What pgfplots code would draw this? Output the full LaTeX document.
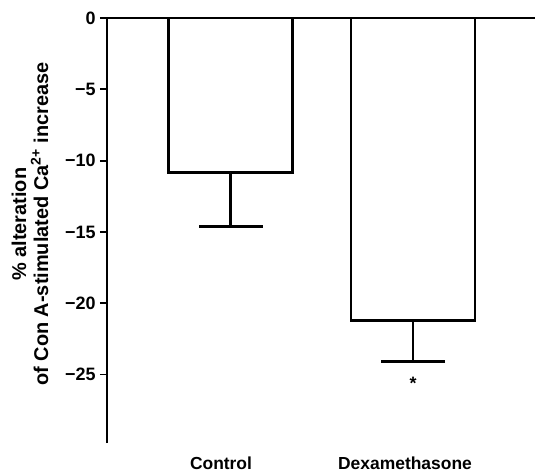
\documentclass[border=0pt]{standalone}
\usepackage{pgfplots}
\pgfplotsset{compat=1.18}
\usepackage{fontspec}
\setmainfont{Liberation Sans}
\begin{document}
\begin{tikzpicture}
\begin{axis}[
  scale only axis,
  width=428bp, height=425bp,
  xmin=0, xmax=428,
  ymin=-29.8, ymax=0,
  axis y line=left,
  axis x line=top,
  axis line style={-, line width=1.8bp},
  xtick=\empty,
  ytick={0,-5,-10,-15,-20,-25},
  yticklabels={0,−5,−10,−15,−20,−25},
  /pgf/number format/assume math mode=true,
  yticklabel style={font=\fontsize{18}{20}\selectfont\bfseries, xshift=-1bp},
  ytick style={line width=1.8bp, black},
  tick align=outside,
  major tick length=7bp,
  ylabel={\% alteration\\of Con A-stimulated Ca\textsuperscript{2+} increase},
  every axis y label/.style={at={(axis description cs:-0.18,0.515)}, rotate=90, anchor=center,
    font=\fontsize{20}{22}\selectfont\bfseries, align=center},
  clip=false,
]
\addplot[ybar, bar width=124, fill=white, draw=black, line width=2.6bp,
  error bars/.cd, y dir=minus, y explicit,
  error bar style={line width=2.6bp},
  error mark options={rotate=90, mark size=32bp, line width=2.6bp}]
  coordinates {(123.5,-10.85) -= (0,3.75) (306,-21.2) -= (0,2.9)};
\node[font=\fontsize{17.5}{18}\selectfont\bfseries] at (axis cs:114,-29.8) [yshift=-20bp] {Control};
\node[font=\fontsize{17.5}{18}\selectfont\bfseries] at (axis cs:298,-29.8) [yshift=-20bp] {Dexamethasone};
\node[font=\fontsize{18}{18}\selectfont\bfseries] at (axis cs:306,-25.6) {*};
\end{axis}
\pgfresetboundingbox
\path ([xshift=-107bp,yshift=-29bp]current axis.south west) rectangle ([yshift=18bp]current axis.north east);
\end{tikzpicture}
\end{document}
